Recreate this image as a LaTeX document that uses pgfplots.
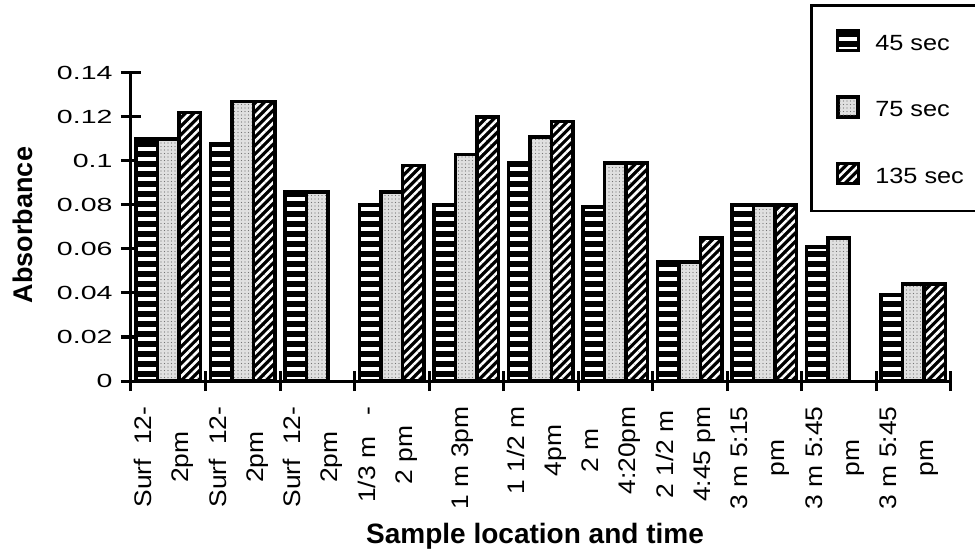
\documentclass[border=0pt]{standalone}
\usepackage{fontspec}
\setmainfont{Liberation Sans}
\newfontfamily\tickfont{Liberation Sans}[FakeStretch=1.5]
\newfontfamily\labfont{Liberation Sans}[FakeStretch=1.15]
\newfontfamily\catfont{Liberation Sans}[FakeStretch=1.1]
\usepackage{pgfplots}
\usepackage{pgfplotstable}
\pgfplotsset{compat=1.18}
\usetikzlibrary{patterns.meta}

% Absorbance per sample for the three reading times (nan = not measured)
\pgfplotstableread{
idx  s45   s75   s135
0    0.110 0.110 0.122
1    0.108 0.127 0.127
2    0.086 0.086 nan
3    0.080 0.086 0.098
4    0.080 0.103 0.120
5    0.099 0.111 0.118
6    0.079 0.099 0.099
7    0.054 0.054 0.065
8    0.080 0.080 0.080
9    0.061 0.065 nan
10   0.039 0.044 0.044
}\absdata

\pgfplotsset{
  bar45/.style={draw=black, line width=3.5pt, preaction={fill=black},
    pattern={Lines[angle=0,distance=10pt,line width=4pt]}, pattern color=white},
  bar75/.style={draw=black, line width=3.5pt, preaction={fill=black!12},
    pattern={Dots[distance=3.5pt,radius=0.55pt]}, pattern color=black!55},
  bar135/.style={draw=black, line width=3.5pt, preaction={fill=black},
    pattern={Lines[angle=45,distance=6pt,line width=2.5pt]}, pattern color=white},
}

\begin{document}
\begin{tikzpicture}
\begin{axis}[
  at={(131pt,168pt)}, anchor=south west,
  scale only axis, width=819.5pt, height=308pt,
  ybar=0pt, bar width=21.5pt,
  xmin=-0.5, xmax=10.5, ymin=0, ymax=0.14,
  axis lines=left, axis line style={-, line width=3pt},
  tick style={black, line width=3pt}, tick align=center,
  major tick length=20pt,
  xtick={-0.5,0.5,...,10.5}, xticklabels={,,,,,,,,,,,},
  extra x ticks={0,...,10},
  extra x tick labels={{Surf\hspace{0.6em}12-\\2pm},{Surf\hspace{0.6em}12-\\2pm},{Surf\hspace{0.6em}12-\\2pm},{1/3 m\hspace{0.9em}-\\2 pm},{1 m 3pm},{1 1/2 m\\4pm},{2 m\\4:20pm},{2 1/2 m\\4:45 pm},{3 m 5:15\\pm},{3 m 5:45\\pm},{3 m 5:45\\pm}},
  extra x tick style={major tick length=0pt,
    xticklabel style={font=\catfont\fontsize{24}{37}\selectfont, align=center,
      xshift=-4pt, yshift=-22pt, rotate=90, anchor=east}},
  ytick={0,0.02,...,0.14}, scaled y ticks=false,
  yticklabel style={font=\tickfont\fontsize{19}{19}\selectfont, xshift=-5pt,
    /pgf/number format/fixed, /pgf/number format/assume math mode=true},
  xlabel={Sample location and time},
  xlabel style={at={(axis description cs:0.493,-0.526)}, anchor=base,
    font=\bfseries\fontsize{28}{28}\selectfont},
  ylabel={Absorbance},
  ylabel style={at={(axis description cs:-0.1318,0.5065)}, anchor=center,
    font=\bfseries\fontsize{27}{27}\selectfont},
  legend style={at={(axis description cs:0.8286,1.224)}, anchor=north west,
    draw=black, line width=2.5pt, font=\labfont\fontsize{22}{22}\selectfont,
    inner xsep=13pt, inner ysep=24pt, row sep=42pt,
    /tikz/every odd column/.style={column sep=14pt}},
  legend cell align=left,
  legend image code/.code={\path (0pt,0pt);
    \draw[#1, line width=2.5pt] (12pt,-7pt) rectangle (32pt,13pt);},
]
\addplot[bar45] table[x=idx, y=s45] {\absdata};
\addplot[bar75] table[x=idx, y=s75] {\absdata};
\addplot[bar135] table[x=idx, y=s135] {\absdata};
\legend{45 sec, 75 sec, 135 sec}
\end{axis}
\pgfresetboundingbox
\path[use as bounding box] (0,0) rectangle (975pt,549pt);
\end{tikzpicture}
\end{document}
